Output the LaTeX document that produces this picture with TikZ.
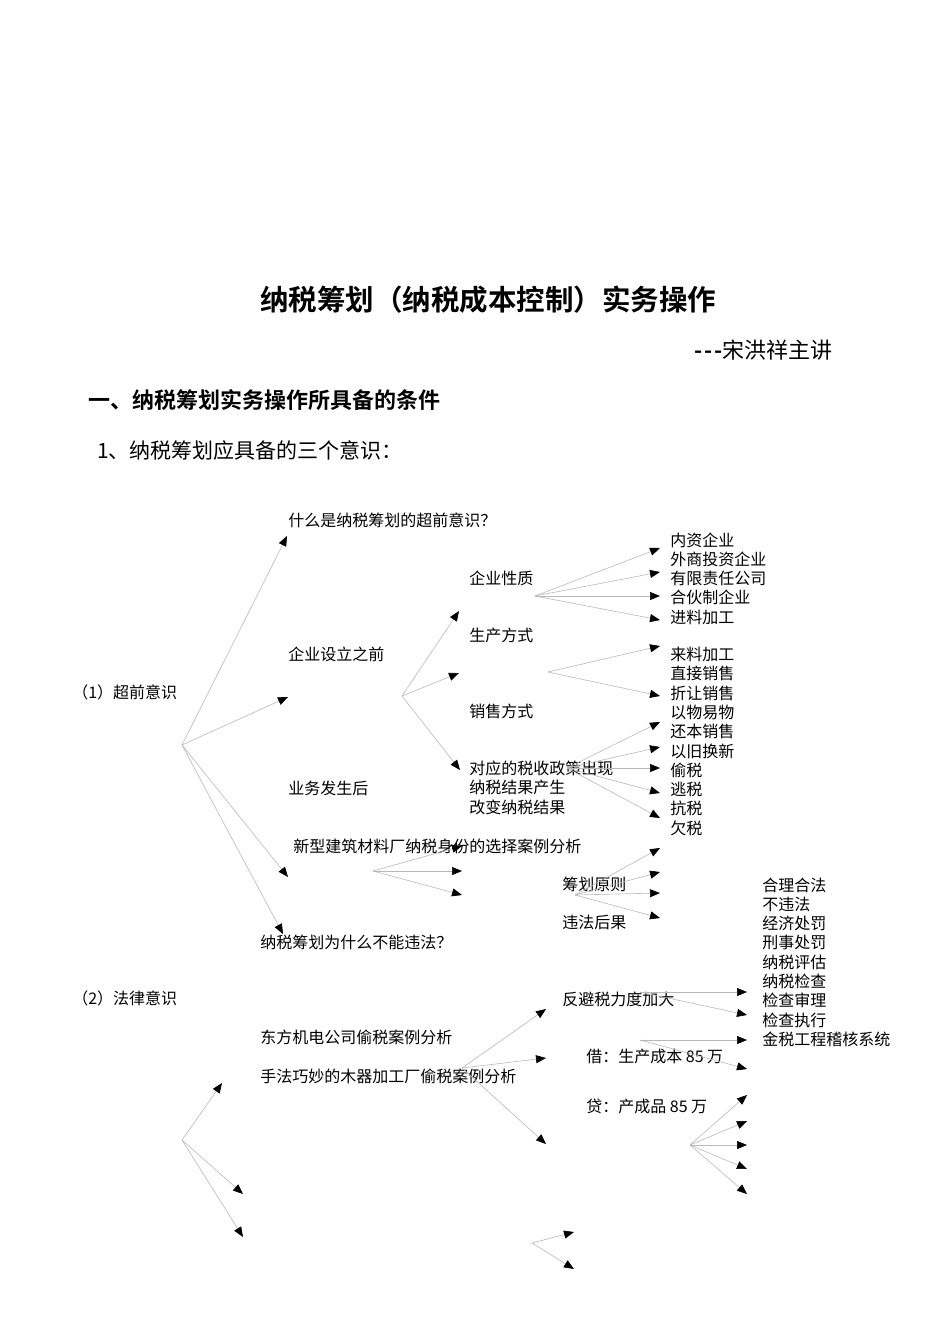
\documentclass[tikz,border=0pt]{standalone}
\usepackage{fontspec}
\setmainfont{Noto Sans CJK SC}[BoldFont={Noto Sans CJK SC Bold}]
\usepackage{tikz}
\usetikzlibrary{arrows.meta,positioning}
\definecolor{linegray}{gray}{0.72}

\begin{document}
\begin{tikzpicture}[x=1pt,y=-1pt,line width=0.6pt]
  \tikzstyle{txt} = [inner sep=0pt,anchor=west,text height=13.5pt,text depth=2.5pt,font=\fontsize{16}{19}\selectfont]
  \tikzstyle{branch} = [draw=linegray,-{Triangle[length=10pt,width=8pt,color=black]}]
  \useasboundingbox (0,0) rectangle (950,1344);

  % headings
  \node[inner sep=0pt,font=\bfseries\fontsize{28.5}{34}\selectfont] (title) at (488,300) {纳税筹划（纳税成本控制）实务操作};
  \node[inner sep=0pt,anchor=east,font=\fontsize{22}{26}\selectfont] (lect) at (833,350) {{\bfseries -\kern2pt-\kern2pt-}宋洪祥主讲};
  \node[inner sep=0pt,anchor=west,font=\bfseries\fontsize{22}{26}\selectfont] (sec) at (88,400) {一、纳税筹划实务操作所具备的条件};
  \node[inner sep=0pt,anchor=west,font=\fontsize{21}{25}\selectfont] (sub) at (97,450) {1、纳税筹划应具备的三个意识：};

  \node[txt] (adv)   at (72,693)  {（1）超前意识};
  \node[txt] (law)   at (72,999)  {（2）法律意识};
  \node[txt] (q1)    at (288,521) {什么是纳税筹划的超前意识？};
  \node[txt] (pre)   at (288,655) {企业设立之前};
  \node[txt] (post)  at (288,789) {业务发生后};
  \node[txt] (case1) at (293,847) {新型建筑材料厂纳税身份的选择案例分析};
  \node[txt] (why)   at (260,943) {纳税筹划为什么不能违法？};
  \node[txt] (case2) at (260,1038) {东方机电公司偷税案例分析};
  \node[txt] (case3) at (260,1077) {手法巧妙的木器加工厂偷税案例分析};

  \node[txt] (nat)   at (469,579) {企业性质};
  \node[txt] (prod)  at (469,636) {生产方式};
  \node[txt] (sale)  at (469,712) {销售方式};
  \node[txt] (pol1)  at (469,769) {对应的税收政策出现};
  \node[txt, below=2.7pt of pol1.south west, anchor=north west] (pol2) {纳税结果产生};
  \node[txt, below=2.7pt of pol2.south west, anchor=north west] (pol3) {改变纳税结果};

  \node[txt] (prin)  at (562,885)  {筹划原则};
  \node[txt] (cons)  at (562,923)  {违法后果};
  \node[txt] (anti)  at (562,1000) {反避税力度加大};
  \node[txt] (dr)    at (586,1057) {借：生产成本 85 万};
  \node[txt] (cr)    at (586,1107) {贷：产成品 85 万};

  \node[txt] (k1) at (670,540.5) {内资企业};
  \node[txt, below=2.7pt of k1.south west, anchor=north west] (k2) {外商投资企业};
  \node[txt, below=2.7pt of k2.south west, anchor=north west] (k3) {有限责任公司};
  \node[txt, below=2.7pt of k3.south west, anchor=north west] (k4) {合伙制企业};
  \node[txt, below=2.7pt of k4.south west, anchor=north west] (k5) {进料加工};

  \node[txt] (m1) at (670,655) {来料加工};
  \node[txt, below=2.7pt of m1.south west, anchor=north west] (m2) {直接销售};
  \node[txt, below=2.7pt of m2.south west, anchor=north west] (m3) {折让销售};
  \node[txt, below=2.7pt of m3.south west, anchor=north west] (m4) {以物易物};
  \node[txt, below=2.7pt of m4.south west, anchor=north west] (m5) {还本销售};
  \node[txt, below=2.7pt of m5.south west, anchor=north west] (m6) {以旧换新};
  \node[txt, below=2.7pt of m6.south west, anchor=north west] (m7) {偷税};
  \node[txt, below=2.7pt of m7.south west, anchor=north west] (m8) {逃税};
  \node[txt, below=2.7pt of m8.south west, anchor=north west] (m9) {抗税};
  \node[txt, below=2.7pt of m9.south west, anchor=north west] (m10) {欠税};

  \node[txt] (r1) at (762,885.5) {合理合法};
  \node[txt, below=2.7pt of r1.south west, anchor=north west] (r2) {不违法};
  \node[txt, below=2.7pt of r2.south west, anchor=north west] (r3) {经济处罚};
  \node[txt, below=2.7pt of r3.south west, anchor=north west] (r4) {刑事处罚};
  \node[txt, below=2.7pt of r4.south west, anchor=north west] (r5) {纳税评估};
  \node[txt, below=2.7pt of r5.south west, anchor=north west] (r6) {纳税检查};
  \node[txt, below=2.7pt of r6.south west, anchor=north west] (r7) {检查审理};
  \node[txt, below=2.7pt of r7.south west, anchor=north west] (r8) {检查执行};
  \node[txt, below=2.7pt of r8.south west, anchor=north west] (r9) {金税工程稽核系统};

  % branch points and arrow ends
  \coordinate (o1) at (182,745);
  \coordinate (o1a) at (287,536);  \coordinate (o1b) at (288,697);
  \coordinate (o1c) at (288,877);  \coordinate (o1d) at (283,934);
  \coordinate (o2) at (402,696);
  \coordinate (o2a) at (459,611);  \coordinate (o2b) at (459,673);
  \coordinate (o2c) at (460,770);
  \coordinate (o3) at (535,596);
  \coordinate (o3a) at (660,548);  \coordinate (o3b) at (660,572);
  \coordinate (o3c) at (660,596);  \coordinate (o3d) at (660,620);
  \coordinate (o4) at (548,672);
  \coordinate (o4a) at (660,646);  \coordinate (o4b) at (660,696);
  \coordinate (o5) at (567,768);
  \coordinate (o5a) at (660,722);  \coordinate (o5b) at (660,747);
  \coordinate (o5c) at (660,768);  \coordinate (o5d) at (660,793);
  \coordinate (o5e) at (660,818);
  \coordinate (o6) at (373,871);
  \coordinate (o6a) at (462,846);  \coordinate (o6b) at (462,871);
  \coordinate (o6c) at (462,895);
  \coordinate (o7) at (575,895);
  \coordinate (o7a) at (660,848);  \coordinate (o7b) at (660,872);
  \coordinate (o7c) at (660,893);  \coordinate (o7d) at (660,918);
  \coordinate (o8) at (640,992);
  \coordinate (o8a) at (747,992);  \coordinate (o8b) at (747,1015);
  \coordinate (o9) at (640,1040);
  \coordinate (o9a) at (747,1040); \coordinate (o9b) at (747,1069);
  \coordinate (o10) at (462,1068);
  \coordinate (o10a) at (546,1009); \coordinate (o10b) at (546,1058);
  \coordinate (o10c) at (546,1144);
  \coordinate (o11) at (182,1140);
  \coordinate (o11a) at (222,1083); \coordinate (o11b) at (243,1194);
  \coordinate (o11c) at (243,1237);
  \coordinate (o12) at (690,1145);
  \coordinate (o12a) at (747,1095); \coordinate (o12b) at (747,1121);
  \coordinate (o12c) at (747,1145); \coordinate (o12d) at (747,1169);
  \coordinate (o12e) at (747,1194);
  \coordinate (o13) at (532,1243);
  \coordinate (o13a) at (574,1232); \coordinate (o13b) at (574,1269);

  \draw[branch] (o1) -- (o1a);
  \draw[branch] (o1) -- (o1b);
  \draw[branch] (o1) -- (o1c);
  \draw[branch] (o1) -- (o1d);
  \draw[branch] (o2) -- (o2a);
  \draw[branch] (o2) -- (o2b);
  \draw[branch] (o2) -- (o2c);
  \draw[branch] (o3) -- (o3a);
  \draw[branch] (o3) -- (o3b);
  \draw[branch] (o3) -- (o3c);
  \draw[branch] (o3) -- (o3d);
  \draw[branch] (o4) -- (o4a);
  \draw[branch] (o4) -- (o4b);
  \draw[branch] (o5) -- (o5a);
  \draw[branch] (o5) -- (o5b);
  \draw[branch] (o5) -- (o5c);
  \draw[branch] (o5) -- (o5d);
  \draw[branch] (o5) -- (o5e);
  \draw[branch] (o6) -- (o6a);
  \draw[branch] (o6) -- (o6b);
  \draw[branch] (o6) -- (o6c);
  \draw[branch] (o7) -- (o7a);
  \draw[branch] (o7) -- (o7b);
  \draw[branch] (o7) -- (o7c);
  \draw[branch] (o7) -- (o7d);
  \draw[branch] (o8) -- (o8a);
  \draw[branch] (o8) -- (o8b);
  \draw[branch] (o9) -- (o9a);
  \draw[branch] (o9) -- (o9b);
  \draw[branch] (o10) -- (o10a);
  \draw[branch] (o10) -- (o10b);
  \draw[branch] (o10) -- (o10c);
  \draw[branch] (o11) -- (o11a);
  \draw[branch] (o11) -- (o11b);
  \draw[branch] (o11) -- (o11c);
  \draw[branch] (o12) -- (o12a);
  \draw[branch] (o12) -- (o12b);
  \draw[branch] (o12) -- (o12c);
  \draw[branch] (o12) -- (o12d);
  \draw[branch] (o12) -- (o12e);
  \draw[branch] (o13) -- (o13a);
  \draw[branch] (o13) -- (o13b);
\end{tikzpicture}
\end{document}
